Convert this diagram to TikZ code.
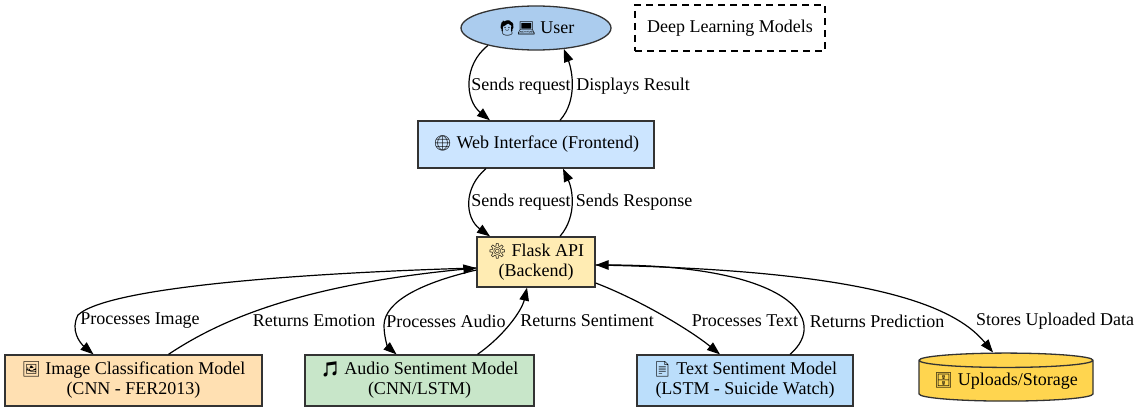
\documentclass[tikz,border=0pt]{standalone}
\usepackage{fontspec}
\setmainfont{Liberation Serif}
\newfontfamily\emoji{Noto Emoji}
\usetikzlibrary{shapes.geometric,arrows.meta}
\definecolor{userblue}{RGB}{171,204,238}
\definecolor{webblue}{RGB}{204,229,255}
\definecolor{flaskyellow}{RGB}{255,236,179}
\definecolor{imgpeach}{RGB}{255,224,178}
\definecolor{audgreen}{RGB}{200,230,201}
\definecolor{txtblue}{RGB}{187,222,251}
\definecolor{storegold}{RGB}{255,213,79}
\newcommand{\emj}[1]{{\emoji\fontsize{15}{15}\selectfont #1}}
\begin{document}
\begin{tikzpicture}[x=1pt,y=-1pt,
  every node/.style={font=\fontsize{18}{20}\selectfont},
  box/.style={draw=black!80,line width=1.3pt,rectangle,align=center,inner sep=0pt},
  flow/.style={-{Triangle[length=13pt,width=9.5pt]},line width=1.2pt},
  lbl/.style={inner sep=0pt}]
\useasboundingbox (0,0) rectangle (1141,412);

\node [ellipse,draw=black!80,line width=1.3pt,fill=userblue,minimum width=150pt,minimum height=44pt,inner sep=0pt] (user) at (536,28) {\emj{🧑}\emj{💻} User};
\node [box,dashed,dash pattern=on 7pt off 5pt,draw=black,minimum width=190pt,minimum height=46pt] (dlm) at (730,28) {Deep Learning Models};
\node [box,fill=webblue,minimum width=236pt,minimum height=47pt] (web) at (536,144.5) {\emj{🌐} Web Interface (Frontend)};
\node [box,fill=flaskyellow,minimum width=118pt,minimum height=50pt] (flask) at (536,262) {\emj{⚙} Flask API\\(Backend)};
\node [box,fill=imgpeach,minimum width=257pt,minimum height=51pt] (img) at (133.5,380.5) {\emj{🖼} Image Classification Model\\(CNN - FER2013)};
\node [box,fill=audgreen,minimum width=229pt,minimum height=51pt] (aud) at (419.5,380.5) {\emj{🎵} Audio Sentiment Model\\(CNN/LSTM)};
\node [box,fill=txtblue,minimum width=216pt,minimum height=51pt] (txt) at (745,380.5) {\emj{📄} Text Sentiment Model\\(LSTM - Suicide Watch)};
\node [cylinder,shape border rotate=90,aspect=0.1,draw=black!80,line width=1.3pt,fill=storegold,minimum width=174pt,minimum height=48pt,inner sep=0pt] (store) at (1006,381) {\emj{🗄} Uploads/Storage};

\draw [flow] (user.200) .. controls (463,65) and (465,100) .. ([xshift=-46pt]web.north);
\draw [flow] ([xshift=24pt]web.north) .. controls (578,100) and (572,70) .. (user.-37);
\draw [flow] ([xshift=-50pt]web.south) .. controls (463,188) and (465,218) .. ([xshift=-46pt]flask.north);
\draw [flow] ([xshift=24pt]flask.north) .. controls (578,215) and (572,188) .. ([xshift=27pt]web.south);
\draw [flow] ([yshift=-6pt]flask.west) .. controls (330,272) and (110,285) .. (78,315) .. controls (70,330) and (80,343) .. ([xshift=-40pt]img.north);
\draw [flow] ([xshift=35pt]img.north) .. controls (220,320) and (300,285) .. ([yshift=-6pt]flask.west);
\draw [flow] ([yshift=-8pt]flask.west) .. controls (425,282) and (385,300) .. (384,325) .. controls (384,338) and (388,347) .. ([xshift=-23pt]aud.north);
\draw [flow] ([xshift=58pt]aud.north) .. controls (505,335) and (522,310) .. ([xshift=-9pt]flask.south);
\draw [flow] ([yshift=-21pt]flask.east) .. controls (640,300) and (690,330) .. ([xshift=-25pt]txt.north);
\draw [flow] ([xshift=45pt]txt.north) .. controls (830,320) and (790,265) .. ([yshift=-3pt]flask.east);
\draw [flow] ([yshift=-3pt]flask.east) .. controls (850,270) and (950,300) .. ([xshift=-13pt]store.north);

\node [lbl] (l1) at (521,86) {Sends request};
\node [lbl] (l2) at (633,86) {Displays Result};
\node [lbl] (l3) at (521,202) {Sends request};
\node [lbl] (l4) at (634,202) {Sends Response};
\node [lbl] (l5) at (140,321) {Processes Image};
\node [lbl] (l6) at (314,321) {Returns Emotion};
\node [lbl] (l7) at (446,321) {Processes Audio};
\node [lbl] (l8) at (587,321) {Returns Sentiment};
\node [lbl] (l9) at (745,321) {Processes Text};
\node [lbl] (l10) at (877,321) {Returns Prediction};
\node [lbl] (l11) at (1055,321) {Stores Uploaded Data};
\end{tikzpicture}
\end{document}
